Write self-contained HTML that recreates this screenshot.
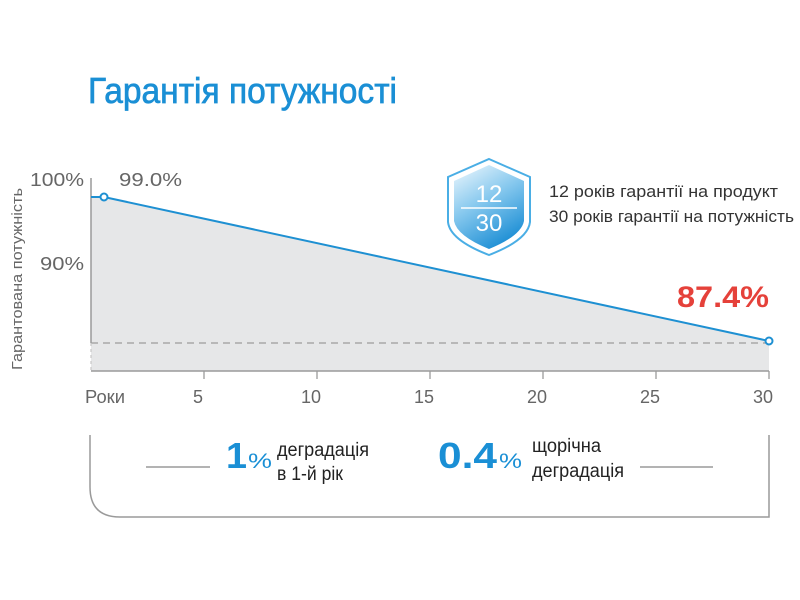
<!DOCTYPE html>
<html>
<head>
<meta charset="utf-8">
<style>
html,body{margin:0;padding:0;background:#fff;}
svg{display:block;}
text{font-family:"Liberation Sans","DejaVu Sans",sans-serif;}
</style>
</head>
<body>
<svg width="800" height="600" viewBox="0 0 800 600" xmlns="http://www.w3.org/2000/svg">
  <defs>
    <linearGradient id="sg" x1="0.15" y1="0" x2="0.65" y2="1">
      <stop offset="0" stop-color="#e4f3fc"/>
      <stop offset="0.45" stop-color="#86c8ee"/>
      <stop offset="1" stop-color="#1a8dd4"/>
    </linearGradient>
  </defs>

  <!-- Title -->
  <text x="88" y="103" font-size="36" fill="#1a8fd5" stroke="#1a8fd5" stroke-width="0.7" textLength="309" lengthAdjust="spacingAndGlyphs">Гарантія потужності</text>

  <!-- Fill area -->
  <polygon points="91,197 104,197 769,341 769,371 91,371" fill="#e6e7e8"/>

  <!-- Dashed reference line -->
  <line x1="91" y1="343" x2="769" y2="343" stroke="#9c9c9c" stroke-width="1.2" stroke-dasharray="7,5"/>

  <!-- Axes -->
  <line x1="91" y1="178" x2="91" y2="343" stroke="#9a9a9a" stroke-width="1.5"/>
  <line x1="91" y1="343" x2="91" y2="371" stroke="#c8c8c8" stroke-width="1.2" stroke-dasharray="3,3"/>
  <line x1="91" y1="371" x2="769" y2="371" stroke="#9a9a9a" stroke-width="1.5"/>
  <g stroke="#9a9a9a" stroke-width="1.3">
    <line x1="204" y1="371" x2="204" y2="379"/>
    <line x1="317" y1="371" x2="317" y2="379"/>
    <line x1="430" y1="371" x2="430" y2="379"/>
    <line x1="543" y1="371" x2="543" y2="379"/>
    <line x1="656" y1="371" x2="656" y2="379"/>
    <line x1="769" y1="371" x2="769" y2="379"/>
  </g>

  <!-- Series line -->
  <polyline points="91,197 104,197 769,341" fill="none" stroke="#1e90d2" stroke-width="2"/>
  <circle cx="104" cy="197" r="3.5" fill="#fff" stroke="#1e90d2" stroke-width="2"/>
  <circle cx="769" cy="341" r="3.5" fill="#fff" stroke="#1e90d2" stroke-width="2"/>

  <!-- Y tick labels -->
  <text x="84" y="186" font-size="18" fill="#666" text-anchor="end" textLength="54" lengthAdjust="spacingAndGlyphs">100%</text>
  <text x="84" y="270" font-size="18" fill="#666" text-anchor="end" textLength="44" lengthAdjust="spacingAndGlyphs">90%</text>

  <!-- Y axis title -->
  <text transform="translate(22,279) rotate(-90)" font-size="15" fill="#666" text-anchor="middle" textLength="182" lengthAdjust="spacingAndGlyphs">Гарантована потужність</text>

  <!-- Value labels -->
  <text x="119" y="186" font-size="18" fill="#666" textLength="63" lengthAdjust="spacingAndGlyphs">99.0%</text>
  <text x="677" y="307" font-size="30" fill="#e5413a" font-weight="bold" textLength="92" lengthAdjust="spacingAndGlyphs">87.4%</text>

  <!-- X tick labels -->
  <g font-size="18" fill="#666" text-anchor="middle">
    <text x="198" y="403">5</text>
    <text x="311" y="403">10</text>
    <text x="424" y="403">15</text>
    <text x="537" y="403">20</text>
    <text x="650" y="403">25</text>
    <text x="763" y="403">30</text>
  </g>
  <text x="85" y="403" font-size="18" fill="#666" textLength="40" lengthAdjust="spacingAndGlyphs">Роки</text>

  <!-- Shield -->
  <path d="M489,159 L530,177 L530,222 Q528,240 489,255 Q450,240 448,222 L448,177 Z" fill="#fff" stroke="#4aaee5" stroke-width="2"/>
  <path d="M489,165 L524,181 L524,221 Q521,236 489,249 Q457,236 454,221 L454,181 Z" fill="url(#sg)"/>
  <text x="489" y="202" font-size="24" fill="#fff" text-anchor="middle">12</text>
  <line x1="461" y1="208" x2="517" y2="208" stroke="#fff" stroke-width="1.5"/>
  <text x="489" y="231" font-size="24" fill="#fff" text-anchor="middle">30</text>

  <!-- Shield text -->
  <text x="549" y="197" font-size="17" fill="#333" textLength="229" lengthAdjust="spacingAndGlyphs">12 років гарантії на продукт</text>
  <text x="549" y="222" font-size="17" fill="#333" textLength="245" lengthAdjust="spacingAndGlyphs">30 років гарантії на потужність</text>

  <!-- Bottom bracket -->
  <path d="M90,435 L90,487 Q90,517 120,517 L769,517 L769,435" fill="none" stroke="#9a9a9a" stroke-width="1.5"/>
  <line x1="146" y1="467" x2="210" y2="467" stroke="#9a9a9a" stroke-width="1.5"/>
  <line x1="640" y1="467" x2="713" y2="467" stroke="#9a9a9a" stroke-width="1.5"/>

  <!-- Bottom left stat -->
  <text x="226" y="468" font-size="36" font-weight="bold" fill="#1a8fd5" textLength="21" lengthAdjust="spacingAndGlyphs">1</text>
  <text x="248" y="468" font-size="21" fill="#1a8fd5" textLength="24" lengthAdjust="spacingAndGlyphs">%</text>
  <text x="277" y="456" font-size="19" fill="#222" textLength="92" lengthAdjust="spacingAndGlyphs">деградація</text>
  <text x="277" y="480" font-size="19" fill="#222" textLength="66" lengthAdjust="spacingAndGlyphs">в 1-й рік</text>

  <!-- Bottom right stat -->
  <text x="438" y="468" font-size="36" font-weight="bold" fill="#1a8fd5" textLength="59" lengthAdjust="spacingAndGlyphs">0.4</text>
  <text x="499" y="468" font-size="21" fill="#1a8fd5" textLength="23" lengthAdjust="spacingAndGlyphs">%</text>
  <text x="532" y="452" font-size="19" fill="#222" textLength="69" lengthAdjust="spacingAndGlyphs">щорічна</text>
  <text x="532" y="477" font-size="19" fill="#222" textLength="92" lengthAdjust="spacingAndGlyphs">деградація</text>
</svg>
</body>
</html>
